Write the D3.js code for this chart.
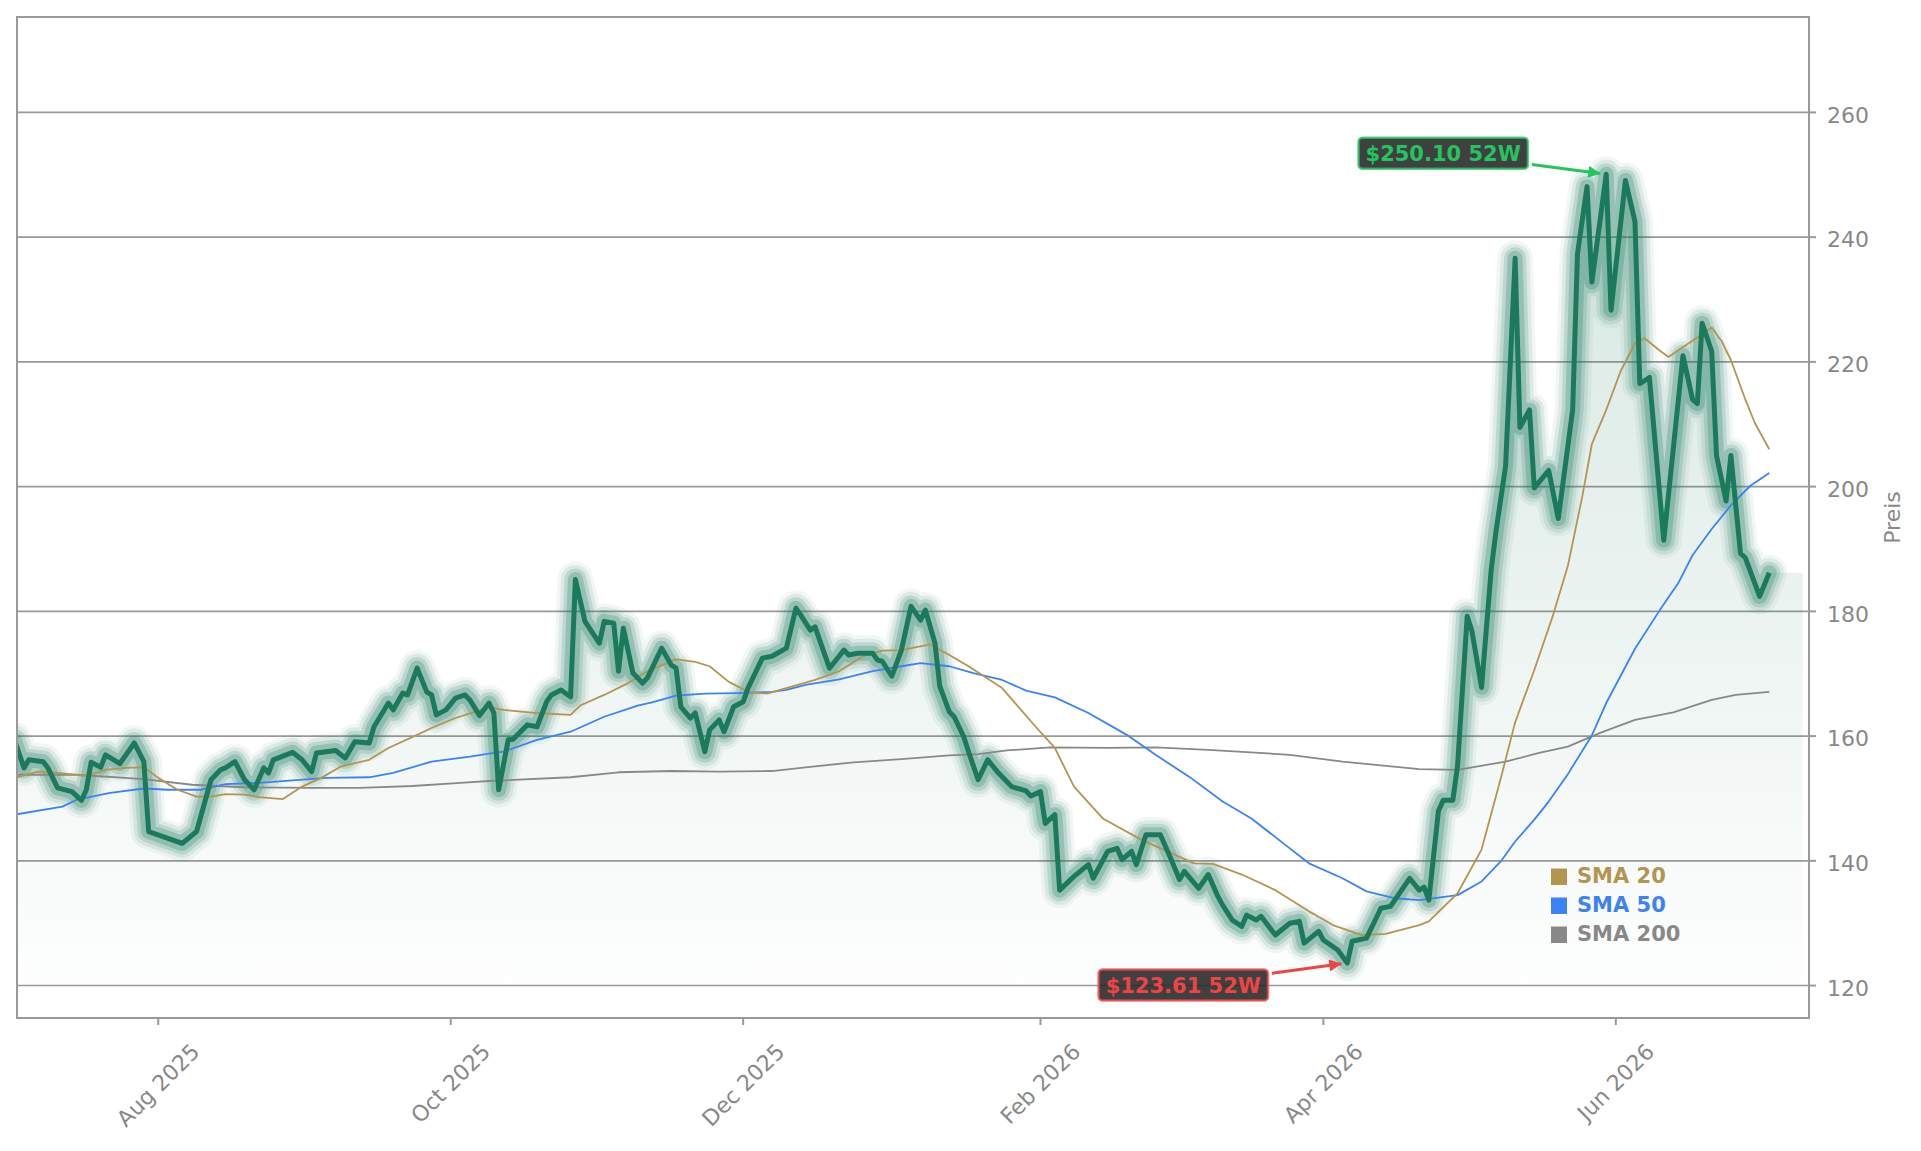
<!DOCTYPE html>
<html>
<head>
<meta charset="utf-8">
<script src="https://cdn.jsdelivr.net/npm/d3@7"></script>
<style>
  body { margin: 0; background: #fff; }
  text { font-family: "DejaVu Sans", sans-serif; }
</style>
</head>
<body>
<div id="chart"></div>
<script>
// Closing prices (turning points of the line)
const priceDates = [
  "2025-07-02","2025-07-04","2025-07-05","2025-07-08","2025-07-09","2025-07-11","2025-07-14","2025-07-16","2025-07-17","2025-07-18",
  "2025-07-20","2025-07-21","2025-07-24","2025-07-26","2025-07-27","2025-07-29","2025-07-30","2025-08-06","2025-08-09","2025-08-12",
  "2025-08-14","2025-08-15","2025-08-17","2025-08-19","2025-08-21","2025-08-23","2025-08-24","2025-08-25","2025-08-29","2025-08-31",
  "2025-09-02","2025-09-03","2025-09-07","2025-09-09","2025-09-11","2025-09-14","2025-09-15","2025-09-18","2025-09-19","2025-09-21",
  "2025-09-22","2025-09-24","2025-09-26","2025-09-27","2025-09-28","2025-09-30","2025-10-02","2025-10-04","2025-10-05","2025-10-07",
  "2025-10-09","2025-10-10","2025-10-11","2025-10-13","2025-10-14","2025-10-17","2025-10-19","2025-10-21","2025-10-22","2025-10-24",
  "2025-10-26","2025-10-27","2025-10-29","2025-11-01","2025-11-02","2025-11-04","2025-11-05","2025-11-06","2025-11-08","2025-11-10",
  "2025-11-11","2025-11-14","2025-11-16","2025-11-17","2025-11-18","2025-11-20","2025-11-21","2025-11-23","2025-11-24","2025-11-26",
  "2025-11-27","2025-11-29","2025-12-01","2025-12-02","2025-12-05","2025-12-07","2025-12-10","2025-12-12","2025-12-13","2025-12-15",
  "2025-12-16","2025-12-19","2025-12-21","2025-12-22","2025-12-23","2025-12-25","2025-12-28","2025-12-29","2025-12-30","2026-01-01",
  "2026-01-03","2026-01-05","2026-01-07","2026-01-08","2026-01-10","2026-01-11","2026-01-13","2026-01-14","2026-01-16","2026-01-17",
  "2026-01-19","2026-01-21","2026-01-23","2026-01-26","2026-01-29","2026-01-30","2026-02-01","2026-02-02","2026-02-04","2026-02-05",
  "2026-02-08","2026-02-11","2026-02-12","2026-02-15","2026-02-17","2026-02-18","2026-02-20","2026-02-21","2026-02-23","2026-02-26",
  "2026-02-28","2026-03-02","2026-03-03","2026-03-06","2026-03-08","2026-03-10","2026-03-11","2026-03-13","2026-03-15","2026-03-16",
  "2026-03-18","2026-03-19","2026-03-22","2026-03-25","2026-03-27","2026-03-28","2026-03-31","2026-04-01","2026-04-04","2026-04-06",
  "2026-04-07","2026-04-10","2026-04-12","2026-04-13","2026-04-15","2026-04-19","2026-04-21","2026-04-22","2026-04-23","2026-04-25",
  "2026-04-26","2026-04-28","2026-04-29","2026-05-01","2026-05-02","2026-05-04","2026-05-06","2026-05-07","2026-05-09","2026-05-11",
  "2026-05-12","2026-05-14","2026-05-15","2026-05-18","2026-05-20","2026-05-23","2026-05-24","2026-05-26","2026-05-27","2026-05-30",
  "2026-05-31","2026-06-03","2026-06-05","2026-06-06","2026-06-08","2026-06-11","2026-06-15","2026-06-17","2026-06-18","2026-06-19",
  "2026-06-21","2026-06-22","2026-06-24","2026-06-25","2026-06-27","2026-06-28","2026-07-01","2026-07-03"
];
const priceValues = [
  159.4,154.9,156.2,155.9,154.9,151.7,151.1,149.7,151.4,155.8,
  155.0,157.0,155.6,157.8,158.9,155.9,144.7,142.8,144.7,153.0,
  154.6,154.9,155.9,153.0,151.4,154.9,154.1,156.2,157.4,156.2,
  154.3,157.3,157.7,156.5,159.1,158.9,161.5,165.3,164.2,166.9,
  166.6,170.9,167.1,166.6,163.4,164.2,166.1,166.6,165.8,163.3,
  165.3,163.7,151.4,159.4,159.5,161.8,161.5,165.5,166.6,167.4,
  166.3,185.1,178.4,174.9,178.4,178.1,170.4,177.3,170.1,168.5,
  169.3,174.1,171.4,170.9,164.7,162.9,163.7,157.5,161.0,162.6,
  160.7,164.7,165.5,167.7,172.5,172.8,174.1,180.5,179.4,177.0,
  177.5,170.9,172.8,173.8,173.0,173.3,173.3,172.2,172.0,169.6,
  173.8,180.8,178.6,180.2,174.9,168.0,163.9,163.1,159.9,157.5,
  153.0,156.2,154.3,151.9,151.2,150.4,151.1,146.0,147.4,135.3,
  137.5,139.4,137.2,141.5,142.0,140.2,141.5,139.4,144.2,144.2,
  140.7,137.0,138.3,135.6,137.8,134.3,132.9,130.5,129.5,131.3,
  130.5,131.1,128.1,130.0,130.3,126.8,128.7,127.3,125.7,123.61,
  127.1,127.6,130.8,132.4,132.7,137.2,135.3,135.8,133.7,148.0,
  149.7,149.7,155.3,179.2,176.8,167.8,186.6,192.8,203.2,236.6,
  209.5,212.3,199.8,202.6,194.9,212.3,237.3,248.1,232.8,250.10,
  228.3,249.1,242.5,216.5,217.5,191.4,221.0,214.0,213.3,226.2,
  221.7,205.0,197.7,205.0,189.3,188.6,182.4,186.2
];
// the shaded area runs on past the last close
const fillEndDate = "2026-07-10";

const sma20Dates = [
  "2025-07-02","2025-07-07","2025-07-11","2025-07-17","2025-07-21","2025-07-25","2025-07-29",
  "2025-08-01","2025-08-05","2025-08-09","2025-08-12","2025-08-15","2025-08-19","2025-08-22","2025-08-27","2025-08-31",
  "2025-09-04","2025-09-08","2025-09-14","2025-09-18","2025-09-24","2025-09-27",
  "2025-10-02","2025-10-09","2025-10-12","2025-10-19","2025-10-26","2025-10-28",
  "2025-11-02","2025-11-07","2025-11-11","2025-11-17","2025-11-21","2025-11-24","2025-11-28",
  "2025-12-02","2025-12-06","2025-12-10","2025-12-16","2025-12-21","2025-12-26","2025-12-30",
  "2026-01-03","2026-01-09","2026-01-13","2026-01-17","2026-01-24","2026-01-31",
  "2026-02-04","2026-02-08","2026-02-14","2026-02-22",
  "2026-03-01","2026-03-05","2026-03-09","2026-03-15","2026-03-22","2026-03-29",
  "2026-04-03","2026-04-09","2026-04-14","2026-04-21","2026-04-23","2026-04-29",
  "2026-05-04","2026-05-08","2026-05-11","2026-05-15","2026-05-19","2026-05-22","2026-05-25","2026-05-27","2026-05-30",
  "2026-06-02","2026-06-05","2026-06-07","2026-06-10","2026-06-12","2026-06-15","2026-06-17","2026-06-21","2026-06-23","2026-06-25","2026-06-28","2026-06-30",
  "2026-07-03"
];
const sma20Values = [
  153.3,154.3,154.1,153.6,154.6,154.9,155.0,
  153.3,151.4,150.3,150.3,150.7,150.6,150.2,149.9,151.9,
  153.3,155.1,156.2,158.1,160.2,161.3,
  162.9,164.6,164.2,163.7,163.4,164.9,
  166.6,168.5,170.4,172.3,171.9,171.2,168.7,
  167.1,166.8,167.7,169.0,170.4,172.8,173.7,
  173.8,174.7,173.0,171.2,167.7,161.5,
  158.1,151.9,146.8,143.4,
  141.0,139.6,139.5,137.8,135.3,131.9,
  129.7,128.1,128.3,129.7,130.3,134.8,
  141.8,153.2,162.2,170.6,179.6,187.3,198.4,206.8,212.3,
  218.5,223.0,223.8,221.9,220.8,222.4,223.4,225.5,223.4,220.3,214.0,210.2,
  206.0
];

const sma50Dates = [
  "2025-07-02","2025-07-12","2025-07-15","2025-07-22","2025-07-29",
  "2025-08-03","2025-08-10","2025-08-15","2025-08-22","2025-08-29",
  "2025-09-05","2025-09-14","2025-09-19","2025-09-27",
  "2025-10-05","2025-10-09","2025-10-12","2025-10-19","2025-10-26",
  "2025-11-02","2025-11-09","2025-11-12","2025-11-17","2025-11-23","2025-11-30",
  "2025-12-07","2025-12-10","2025-12-14","2025-12-21","2025-12-28",
  "2026-01-03","2026-01-07","2026-01-13","2026-01-18","2026-01-24","2026-01-29",
  "2026-02-04","2026-02-11","2026-02-19","2026-02-25",
  "2026-03-04","2026-03-11","2026-03-17","2026-03-24","2026-03-29",
  "2026-04-05","2026-04-10","2026-04-16","2026-04-21","2026-04-29",
  "2026-05-04","2026-05-08","2026-05-11","2026-05-15","2026-05-18","2026-05-22","2026-05-27","2026-05-30",
  "2026-06-05","2026-06-10","2026-06-14","2026-06-17","2026-06-21","2026-06-25","2026-06-29",
  "2026-07-03"
];
const sma50Values = [
  147.4,148.7,149.8,150.9,151.6,
  151.4,151.4,152.3,152.5,152.9,
  153.3,153.4,154.1,155.9,
  156.7,157.2,157.5,159.4,160.7,
  163.1,164.9,165.4,166.5,166.8,166.9,
  167.1,167.4,168.2,169.1,170.4,
  171.2,171.7,171.2,170.1,169.0,167.3,
  166.2,163.7,160.2,157.0,
  153.5,149.5,146.8,142.6,139.6,
  137.2,135.1,134.0,133.7,134.5,
  136.7,139.9,143.1,146.6,149.5,153.9,160.1,165.3,
  174.0,180.0,184.5,189.0,193.2,197.0,200.1,
  202.2
];

const sma200Dates = [
  "2025-07-02","2025-07-15","2025-07-29","2025-08-08","2025-08-19",
  "2025-09-02","2025-09-12","2025-09-23","2025-10-03","2025-10-09","2025-10-26",
  "2025-11-05","2025-11-16","2025-11-26","2025-12-07","2025-12-14","2025-12-24",
  "2026-01-03","2026-01-13","2026-01-19","2026-01-25","2026-02-03","2026-02-15","2026-02-25",
  "2026-03-08","2026-03-25","2026-04-05","2026-04-21","2026-04-29",
  "2026-05-09","2026-05-16","2026-05-22","2026-05-29",
  "2026-06-05","2026-06-13","2026-06-21","2026-06-26","2026-07-03"
];
const sma200Values = [
  153.8,153.8,153.1,152.2,151.8,
  151.7,151.7,152.0,152.5,152.8,153.4,
  154.2,154.4,154.3,154.4,155.0,155.8,
  156.3,156.9,157.1,157.7,158.2,158.1,158.2,
  157.8,157.0,155.9,154.7,154.6,
  155.9,157.3,158.3,160.6,
  162.6,163.8,165.8,166.6,167.1
];

const yTicks = [120, 140, 160, 180, 200, 220, 240, 260];
const xTickDates = ["2025-08-01", "2025-10-01", "2025-12-01", "2026-02-01", "2026-04-01", "2026-06-01"];
const xTickLabels = ["Aug 2025", "Oct 2025", "Dec 2025", "Feb 2026", "Apr 2026", "Jun 2026"];
const legendLabels = ["SMA 20", "SMA 50", "SMA 200"];
const legendColors = ["#b3954f", "#3b82f6", "#888888"];

const highDate = "2026-05-30", highValue = 250.10;
const lowDate = "2026-04-06", lowValue = 123.61;

// ---------------------------------------------------------------
const W = 1921, H = 1151;
const plot = { left: 17, right: 1809, top: 17, bottom: 1018 };
const parse = d3.utcParse("%Y-%m-%d");
const priceColor = "#1b7a5c";
const textGray = "#888888";

const toSeries = (dates, values) => dates.map((d, i) => ({ date: parse(d), value: values[i] }));
const price = toSeries(priceDates, priceValues);
const sma20 = toSeries(sma20Dates, sma20Values);
const sma50 = toSeries(sma50Dates, sma50Values);
const sma200 = toSeries(sma200Dates, sma200Values);

const x = d3.scaleUtc()
    .domain([new Date(Date.UTC(2025, 6, 2, 13)), new Date(Date.UTC(2026, 6, 11, 7))])
    .range([plot.left, plot.right]);
const y = d3.scaleLinear()
    .domain([114.8, 275.3])
    .range([plot.bottom, plot.top]);

const svg = d3.select("#chart").append("svg")
    .attr("width", W)
    .attr("height", H);

const defs = svg.append("defs");
defs.append("clipPath").attr("id", "plotClip")
  .append("rect")
    .attr("x", plot.left).attr("y", plot.top)
    .attr("width", plot.right - plot.left).attr("height", plot.bottom - plot.top);

const grad = defs.append("linearGradient")
    .attr("id", "fillGrad")
    .attr("gradientUnits", "userSpaceOnUse")
    .attr("x1", 0).attr("x2", 0)
    .attr("y1", y(d3.max(priceValues))).attr("y2", plot.bottom);
grad.append("stop").attr("offset", 0).attr("stop-color", priceColor).attr("stop-opacity", 0.18);
grad.append("stop").attr("offset", 1).attr("stop-color", priceColor).attr("stop-opacity", 0.0);

// arrow heads for the 52W labels
[["arrowGreen", "#22c55e"], ["arrowRed", "#ef4444"]].forEach(([id, c]) => {
  defs.append("marker")
      .attr("id", id)
      .attr("viewBox", "0 0 10 10")
      .attr("refX", 10).attr("refY", 5)
      .attr("markerWidth", 15).attr("markerHeight", 12)
      .attr("markerUnits", "userSpaceOnUse")
      .attr("orient", "auto")
    .append("path")
      .attr("d", "M0,0L10,5L0,10z")
      .attr("fill", c);
});

// horizontal grid
svg.append("g")
  .selectAll("line")
  .data(yTicks)
  .join("line")
    .attr("x1", plot.left).attr("x2", plot.right)
    .attr("y1", d => y(d)).attr("y2", d => y(d))
    .attr("stroke", "#999")
    .attr("stroke-width", 1.6);

const g = svg.append("g").attr("clip-path", "url(#plotClip)");

// gradient fill under the price
const fillData = price.concat([{ date: parse(fillEndDate), value: priceValues[priceValues.length - 1] }]);
g.append("path")
    .datum(fillData)
    .attr("fill", "url(#fillGrad)")
    .attr("d", d3.area()
        .x(d => x(d.date))
        .y0(plot.bottom)
        .y1(d => y(d.value)));

const line = d3.line()
    .x(d => x(d.date))
    .y(d => y(d.value));

// glow around the price line
const glow = [[36, 0.06], [29, 0.1], [22, 0.16], [15, 0.24]];
glow.forEach(([w, o]) => {
  g.append("path")
      .datum(price)
      .attr("fill", "none")
      .attr("stroke", priceColor)
      .attr("stroke-opacity", o)
      .attr("stroke-width", w)
      .attr("stroke-linejoin", "round")
      .attr("stroke-linecap", "round")
      .attr("d", line);
});

// moving averages
[[sma200, legendColors[2]], [sma50, legendColors[1]], [sma20, legendColors[0]]].forEach(([s, c]) => {
  g.append("path")
      .datum(s)
      .attr("fill", "none")
      .attr("stroke", c)
      .attr("stroke-width", 1.8)
      .attr("stroke-linejoin", "round")
      .attr("d", line);
});

// price line
g.append("path")
    .datum(price)
    .attr("fill", "none")
    .attr("stroke", priceColor)
    .attr("stroke-width", 5)
    .attr("stroke-linejoin", "round")
    .attr("d", line);

// frame
svg.append("rect")
    .attr("x", plot.left).attr("y", plot.top)
    .attr("width", plot.right - plot.left).attr("height", plot.bottom - plot.top)
    .attr("fill", "none")
    .attr("stroke", "#999")
    .attr("stroke-width", 2);

// right axis
const yAxis = svg.append("g");
yTicks.forEach(t => {
  yAxis.append("line")
      .attr("x1", plot.right).attr("x2", plot.right + 7)
      .attr("y1", y(t)).attr("y2", y(t))
      .attr("stroke", "#999").attr("stroke-width", 2);
  yAxis.append("text")
      .attr("x", plot.right + 18)
      .attr("y", y(t))
      .attr("dy", "0.47em")
      .attr("font-size", 22)
      .attr("fill", textGray)
      .text(t);
});
svg.append("text")
    .attr("transform", `translate(1892,${(plot.top + plot.bottom) / 2}) rotate(-90)`)
    .attr("text-anchor", "middle")
    .attr("dominant-baseline", "central")
    .attr("font-size", 22)
    .attr("fill", textGray)
    .text("Preis");

// bottom axis
const xAxis = svg.append("g");
xTickDates.forEach((ds, i) => {
  const tx = x(parse(ds));
  xAxis.append("line")
      .attr("x1", tx).attr("x2", tx)
      .attr("y1", plot.bottom).attr("y2", plot.bottom + 7)
      .attr("stroke", "#999").attr("stroke-width", 2);
  const t = xAxis.append("text")
      .attr("text-anchor", "middle")
      .attr("dominant-baseline", "central")
      .attr("font-size", 22)
      .attr("fill", textGray)
      .text(xTickLabels[i]);
  const len = t.node().getComputedTextLength();
  const half = (len + 22) / (2 * Math.SQRT2);
  t.attr("transform", `translate(${tx},${1040 + half}) rotate(-45)`);
});

// legend
const legend = svg.append("g");
legendLabels.forEach((lab, i) => {
  const by = 883 + i * 29;
  legend.append("rect")
      .attr("x", 1551).attr("y", by - 14.5)
      .attr("width", 16).attr("height", 16.5)
      .attr("fill", legendColors[i]);
  legend.append("text")
      .attr("x", 1577).attr("y", by)
      .attr("font-size", 21)
      .attr("font-weight", "bold")
      .attr("fill", legendColors[i])
      .text(lab);
});

// 52 week high / low labels
function marker52(dateStr, value, dx, dy, color, arrowId) {
  const px = x(parse(dateStr)), py = y(value);
  const cx = px + dx, cy = py + dy;
  const grp = svg.append("g");
  const box = grp.append("rect");
  const t = grp.append("text")
      .attr("x", cx).attr("y", cy)
      .attr("dy", "0.36em")
      .attr("text-anchor", "middle")
      .attr("font-size", 21)
      .attr("font-weight", "bold")
      .attr("fill", color)
      .text("$" + value.toFixed(2) + " 52W");
  const bw = t.node().getComputedTextLength() + 14, bh = 31;
  box.attr("x", cx - bw / 2).attr("y", cy - bh / 2)
      .attr("width", bw).attr("height", bh)
      .attr("rx", 4)
      .attr("fill", "#262626").attr("fill-opacity", 0.88)
      .attr("stroke", color).attr("stroke-opacity", 0.75)
      .attr("stroke-width", 2.5);
  const vx = px - cx, vy = py - cy;
  const len = Math.hypot(vx, vy);
  const ux = vx / len, uy = vy / len;
  const tExit = Math.min((bw / 2) / Math.abs(vx), (bh / 2) / Math.abs(vy));
  grp.append("line")
      .attr("x1", cx + vx * tExit + ux * 4).attr("y1", cy + vy * tExit + uy * 4)
      .attr("x2", px - ux * 6).attr("y2", py - uy * 6)
      .attr("stroke", color)
      .attr("stroke-width", 3)
      .attr("marker-end", `url(#${arrowId})`);
}
marker52(highDate, highValue, -163, -21, "#22c55e", "arrowGreen");
marker52(lowDate, lowValue, -164, 22, "#ef4444", "arrowRed");
</script>
</body>
</html>
